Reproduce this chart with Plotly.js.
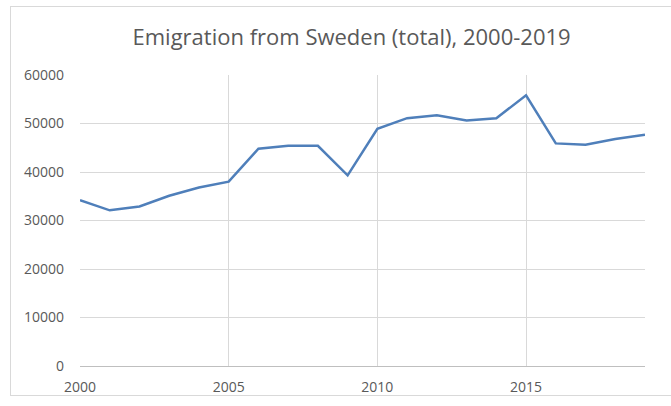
<!DOCTYPE html>
<html>
<head>
<meta charset="utf-8">
<script src="https://cdn.plot.ly/plotly-3.0.1.min.js"></script>
<style>
  html, body { margin: 0; padding: 0; background: #fff; }
  #frame { position: absolute; left: 10px; top: 6px; width: 680px; height: 388px;
           border-left: 1px solid #d9d9d9; border-top: 1px solid #d9d9d9; border-bottom: 1px solid #d9d9d9; }
  #chart { position: absolute; left: 0; top: 0; width: 671px; height: 406px; }
</style>
</head>
<body>
<div id="frame"></div>
<div id="chart"></div>
<script>
const years = [2000,2001,2002,2003,2004,2005,2006,2007,2008,2009,2010,2011,2012,2013,2014,2015,2016,2017,2018,2019];
const emigration = [34200,32100,32900,35100,36800,38000,44800,45400,45400,39300,48900,51100,51700,50600,51100,55800,45900,45600,46800,47700];
const xTickVals = [2000,2005,2010,2015];
const yTickVals = [0,10000,20000,30000,40000,50000,60000];
const chartTitle = 'Emigration from Sweden (total), 2000-2019';

const trace = {
  x: years, y: emigration, type: 'scatter', mode: 'lines',
  line: { color: '#4f7fba', width: 2.5 },
  hoverinfo: 'x+y'
};

const layout = {
  width: 671, height: 406,
  paper_bgcolor: 'rgba(0,0,0,0)', plot_bgcolor: 'rgba(0,0,0,0)',
  margin: { l: 80, r: 26, t: 75, b: 40 },
  showlegend: false,
  font: { family: 'Open Sans, sans-serif', color: '#595959' },
  title: { text: chartTitle, x: 0.524, xanchor: 'center', y: 0.908, yanchor: 'middle',
           font: { size: 22, color: '#595959', family: 'Open Sans, sans-serif' } },
  xaxis: {
    range: [2000, 2019], tickvals: xTickVals, ticktext: xTickVals.map(String),
    showgrid: true, gridcolor: '#d9d9d9', gridwidth: 1,
    zeroline: false, showline: false, ticks: '',
    tickfont: { size: 14, color: '#595959' }, ticklabelstandoff: 11
  },
  yaxis: {
    range: [0, 60000], tickvals: yTickVals, ticktext: yTickVals.map(String),
    showgrid: true, gridcolor: '#d9d9d9', gridwidth: 1,
    zeroline: true, zerolinecolor: '#bfbfbf', zerolinewidth: 1,
    showline: false, ticks: '',
    tickfont: { size: 14, color: '#595959' }, ticklabelstandoff: 15
  }
};

Plotly.newPlot('chart', [trace], layout, { displayModeBar: false, staticPlot: true });
</script>
</body>
</html>
